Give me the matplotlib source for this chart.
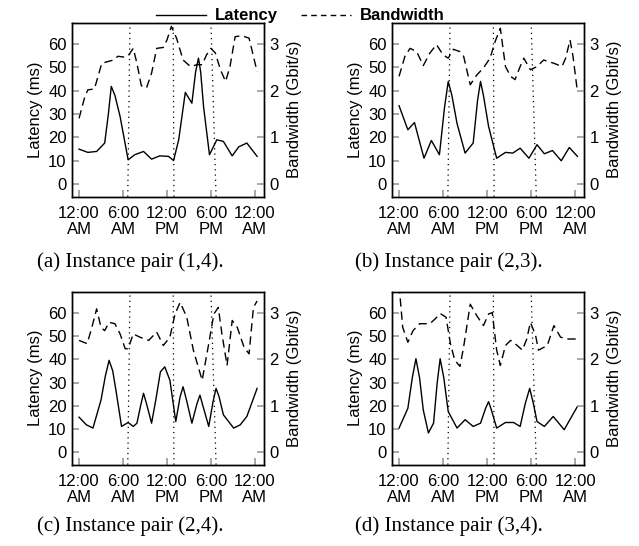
import matplotlib
matplotlib.use("Agg")
import matplotlib.pyplot as plt
from matplotlib.lines import Line2D

# ===============================================================
# Data (hours since midnight, latency in ms, bandwidth in Gbit/s)
# ===============================================================
lat_a_h = [0, 1.2, 2.4, 3.5, 4.0, 4.4, 4.9, 5.6, 6.7, 7.6, 8.8, 9.9, 11.0, 12.2, 12.9,
           13.6, 14.5, 15.4, 15.9, 16.3, 16.6, 17.0, 17.8, 18.8, 19.7, 20.9, 21.8,
           22.9, 24.3]
lat_a_ms = [15, 13.6, 14, 17.6, 30, 41.9, 38, 29, 10.4, 12.6, 14, 10.7, 12.1, 11.9,
            10.1, 19, 39.3, 34.7, 48, 54, 48, 33, 12.6, 19, 18.3, 12.1, 16, 17.6, 11.9]
bw_a_h = [0, 0.8, 1.2, 2.1, 3.1, 4.0, 4.7, 5.3, 6.3, 6.7, 7.4, 7.9, 8.5, 9.2, 9.9,
          10.6, 11.5, 12.0, 12.6, 13.3, 14.2, 15.2, 16.1, 16.8, 17.4, 18.0, 18.6,
          19.3, 20.0, 20.6, 21.3, 22.2, 23.2, 24.3]
bw_a_gbps = [1.41, 1.88, 2.02, 2.04, 2.59, 2.63, 2.66, 2.74, 2.72, 2.75, 2.91, 2.59,
             2.11, 2.06, 2.38, 2.91, 2.93, 3.09, 3.38, 3.13, 2.66, 2.52, 2.56, 2.56,
             2.77, 2.91, 2.81, 2.45, 2.2, 2.52, 3.16, 3.18, 3.13, 2.41]

lat_b_h = [0, 1.2, 2.1, 3.4, 4.4, 5.5, 6.2, 6.7, 7.2, 7.9, 9.0, 10.1, 10.7, 11.1,
           11.5, 12.2, 13.3, 14.5, 15.5, 16.5, 17.7, 18.8, 19.8, 20.9, 22.1, 23.2, 24.3]
lat_b_ms = [33.6, 23.3, 26.4, 11.1, 18.7, 12.6, 33, 44, 38, 26, 13.3, 17.6, 36, 44,
            38, 24.7, 11.1, 13.6, 13.3, 15.4, 11.1, 16.9, 13, 14.4, 10, 15.7, 11.9]
bw_b_h = [0, 0.8, 1.5, 2.4, 3.3, 4.2, 5.1, 6.0, 6.7, 7.4, 8.3, 8.8, 9.7, 10.6, 11.5,
          12.4, 13.1, 13.8, 14.5, 15.2, 15.8, 16.5, 17.0, 17.9, 18.8, 19.7, 21.1,
          22.2, 22.7, 23.3, 23.7, 24.3]
bw_b_gbps = [2.31, 2.74, 2.91, 2.84, 2.54, 2.81, 2.99, 2.77, 2.7, 2.89, 2.84, 2.74,
             2.13, 2.34, 2.49, 2.7, 3.06, 3.34, 2.52, 2.31, 2.24, 2.52, 2.7, 2.45,
             2.52, 2.66, 2.59, 2.52, 2.7, 3.09, 2.74, 1.99]

lat_c_h = [0, 1.0, 1.9, 3.0, 3.6, 4.1, 4.6, 5.1, 5.8, 6.7, 7.4, 7.9, 8.4, 8.8, 9.2,
           9.9, 10.5, 11.1, 11.7, 12.4, 13.2, 13.8, 14.2, 14.7, 15.4, 16.1, 16.5,
           16.9, 17.7, 18.3, 18.7, 19.1, 19.7, 21.1, 22.0, 22.9, 24.3]
lat_c_ms = [15.1, 11.8, 10.4, 22.5, 33, 39.6, 35, 25.4, 11.1, 12.8, 11.1, 12.5, 20,
            25.4, 21, 12.5, 23, 34.6, 36.8, 31, 13.2, 24, 28.2, 22, 12.5, 21, 24.6,
            20, 11.1, 22, 27.5, 24, 16.1, 10.4, 11.8, 15.4, 27.5]
bw_c_h = [0, 1.1, 1.7, 2.4, 3.0, 3.5, 4.1, 4.9, 5.6, 6.3, 6.7, 7.4, 8.3, 9.5, 10.6,
          11.5, 12.4, 13.1, 13.8, 14.7, 15.6, 16.8, 17.7, 18.4, 19.0, 19.5, 20.2,
          20.9, 21.6, 22.5, 23.2, 23.8, 24.3]
bw_c_gbps = [2.41, 2.34, 2.66, 3.09, 2.69, 2.62, 2.8, 2.77, 2.55, 2.23, 2.23, 2.55,
             2.48, 2.41, 2.59, 2.3, 2.48, 2.98, 3.23, 2.91, 2.2, 1.55, 2.34, 2.98,
             3.12, 2.55, 1.87, 2.84, 2.69, 2.27, 2.12, 3.12, 3.26]

lat_d_h = [0, 1.2, 1.8, 2.3, 2.8, 3.3, 4.0, 4.7, 5.2, 5.6, 6.1, 6.7, 7.9, 9.0, 10.1,
           11.1, 11.8, 12.2, 12.6, 13.3, 14.5, 15.6, 16.5, 17.2, 17.8, 18.3, 18.8,
           19.8, 21.0, 22.5, 24.3]
lat_d_ms = [10.4, 18.9, 32, 40.3, 32, 18.2, 8.3, 12.5, 30, 40.3, 32, 17.5, 10.4, 14,
            11.1, 12.5, 19, 21.8, 18, 10.4, 12.8, 12.8, 11.1, 21, 27.5, 21, 13.2,
            11.1, 15.4, 9.7, 19.7]
bw_d_h = [0, 0.5, 1.2, 1.9, 2.8, 4.2, 4.9, 5.6, 6.4, 7.0, 7.6, 8.3, 8.8, 9.7, 10.6,
          11.5, 12.2, 12.7, 13.3, 13.8, 14.5, 15.2, 16.1, 16.8, 17.4, 17.9, 18.6,
          19.0, 20.2, 21.1, 22.0, 22.9, 24.3]
bw_d_gbps = [3.6, 2.69, 2.37, 2.62, 2.77, 2.77, 2.87, 2.99, 2.91, 2.34, 1.98, 1.85,
             2.27, 3.19, 2.94, 2.73, 2.98, 3.01, 2.2, 1.87, 2.3, 2.41, 2.3, 2.2, 2.44,
             2.8, 2.52, 2.2, 2.3, 2.73, 2.48, 2.44, 2.44]

# dotted reference times (hours) at the top / bottom edge of each panel
marker_top_h = [6.95, 12.85, 18.0]
marker_bot_h = [6.65, 12.95, 18.7]

tick_hours = [0, 6, 12, 18, 24]
tick_labels = ["12:00\nAM", "6:00\nAM", "12:00\nPM", "6:00\nPM", "12:00\nAM"]
captions = ["(a) Instance pair (1,4).", "(b) Instance pair (2,3).",
            "(c) Instance pair (2,4).", "(d) Instance pair (3,4)."]

PANELS = [
    (lat_a_h, lat_a_ms, bw_a_h, bw_a_gbps),
    (lat_b_h, lat_b_ms, bw_b_h, bw_b_gbps),
    (lat_c_h, lat_c_ms, bw_c_h, bw_c_gbps),
    (lat_d_h, lat_d_ms, bw_d_h, bw_d_gbps),
]

# ===============================================================
# Style
# ===============================================================
plt.rcParams["font.family"] = ["Liberation Sans", "DejaVu Sans"]
plt.rcParams["font.size"] = 12
TICK_GREY = "#9a9a9a"
LAT_YLIM = (-5.4, 69.2)
BW_SCALE = 20.0  # 1 Gbit/s on the right axis == 20 ms on the left

W, H = 639, 546
fig = plt.figure(figsize=(W / 100, H / 100), dpi=100)

# axes boxes in pixels: left, top, right, bottom
BOXES = [
    (72.3, 22.7, 263.7, 196.7),
    (392.3, 22.7, 584.0, 196.7),
    (72.3, 291.7, 263.7, 464.7),
    (392.3, 291.7, 584.0, 464.7),
]
CAPTION_XY = [(130, 262), (449, 262), (130, 526), (449, 526)]

for (lh, lv, bh, bv), (x0, y0, x1, y1), cap, (cx, cy) in zip(PANELS, BOXES, captions, CAPTION_XY):
    ax = fig.add_axes([x0 / W, 1 - y1 / H, (x1 - x0) / W, (y1 - y0) / H])
    ax2 = ax.twinx()

    ax.set_xlim(-0.92, 25.2)
    ax.set_ylim(*LAT_YLIM)
    ax2.set_ylim(LAT_YLIM[0] / BW_SCALE, LAT_YLIM[1] / BW_SCALE)

    for t, b in zip(marker_top_h, marker_bot_h):
        ax.plot([b, t], [0, 1], transform=ax.get_xaxis_transform(),
                color="black", lw=0.9, linestyle=(0, (1, 3.2)), zorder=1)

    ax.plot(lh, lv, color="black", lw=1.0, zorder=3)
    ax2.plot(bh, bv, color="black", lw=1.0, dashes=(6, 3.5), zorder=3)

    ax.set_xticks(tick_hours, tick_labels, linespacing=1.05)
    ax.set_yticks(range(0, 61, 10))
    ax2.set_yticks([0, 1, 2, 3])

    ax.tick_params(axis="x", direction="in", length=5, color=TICK_GREY, width=1.2, pad=7)
    ax.tick_params(axis="y", direction="in", length=5, color=TICK_GREY, width=1.2, pad=4)
    ax2.tick_params(axis="y", direction="in", length=5, color=TICK_GREY, width=1.2, pad=4)

    ax.set_ylabel("Latency (ms)", labelpad=4)
    ax2.set_ylabel("Bandwidth (Gbit/s)", labelpad=6)

    for a in (ax, ax2):
        for s in a.spines.values():
            s.set_linewidth(1.0)

    fig.text(cx / W, 1 - cy / H, cap, ha="center", va="center",
             family=["Liberation Serif", "DejaVu Serif"], fontsize=15)

# ===============================================================
# Legend
# ===============================================================
handles = [
    Line2D([], [], color="black", lw=1.0),
    Line2D([], [], color="black", lw=1.0, dashes=(4, 3)),
]
fig.legend(handles, ["Latency", "Bandwidth"], loc="upper center",
           bbox_to_anchor=(0.47, 1.012), ncol=2, frameon=False,
           prop={"weight": "bold", "size": 12}, handlelength=3.0,
           handletextpad=0.5, columnspacing=1.4)

fig.savefig("out.png", dpi=100)
